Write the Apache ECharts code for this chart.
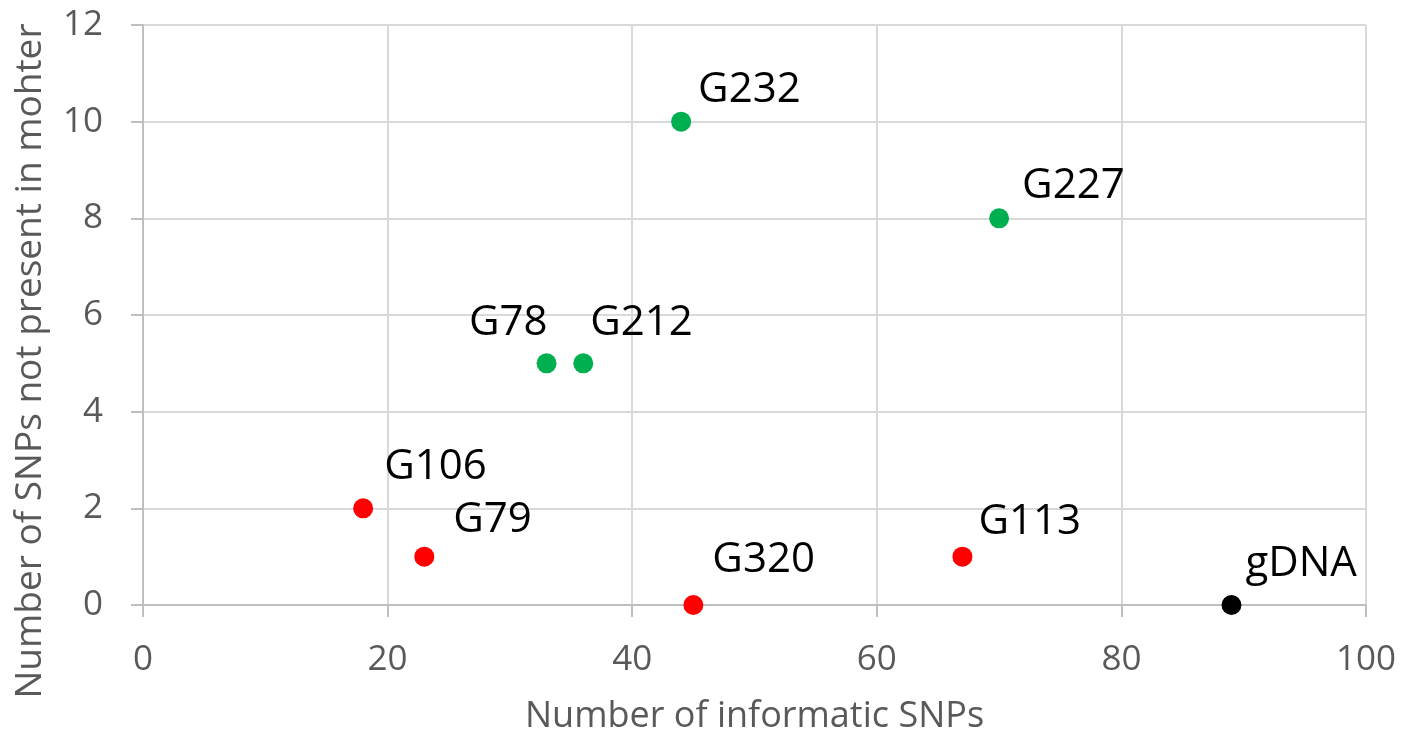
<!DOCTYPE html>
<html>
<head>
<meta charset="utf-8">
<script src="https://cdn.jsdelivr.net/npm/echarts@6/dist/echarts.min.js"></script>
<style>
html,body{margin:0;padding:0;background:#fff;}
#chart{width:1402px;height:740px;}
</style>
</head>
<body>
<div id="chart"></div>
<script>
// Data
const sampleNames = ['G232','G227','G78','G212','G106','G79','G320','G113','gDNA'];
const informativeSNPs = [44, 70, 33, 36, 18, 23, 45, 67, 89];
const snpsNotInMother = [10, 8, 5, 5, 2, 1, 0, 1, 0];
const sampleGroup = ['green','green','green','green','red','red','red','red','black'];
const xTicks = [0, 20, 40, 60, 80, 100];
const yTicks = [0, 2, 4, 6, 8, 10, 12];

// Layout / style (not data)
const groupColors = {green:'#00b050', red:'#ff0000', black:'#000000'};
const labelLayout = {
  G232:{pos:'right', off:[2,-32]},
  G227:{pos:'right', off:[8,-32]},
  G78:{pos:'left', off:[16,-40]},
  G212:{pos:'right', off:[-8,-40]},
  G106:{pos:'right', off:[6,-41]},
  G79:{pos:'right', off:[14,-37]},
  G320:{pos:'right', off:[4,-45]},
  G113:{pos:'right', off:[1,-35]},
  gDNA:{pos:'right', off:[-1,-41]}
};

const points = sampleNames.map((n,i)=>({
  name:n,
  value:[informativeSNPs[i], snpsNotInMother[i]],
  itemStyle:{color:groupColors[sampleGroup[i]], opacity:1},
  label:{show:true, formatter:n, position:labelLayout[n].pos, offset:labelLayout[n].off}
}));

const chart = echarts.init(document.getElementById('chart'));
const font = '"Open Sans", "Liberation Sans", sans-serif';
chart.setOption({
  animation:false,
  backgroundColor:'#ffffff',
  grid:{left:143, right:36, top:25, bottom:135, containLabel:false},
  xAxis:{
    type:'value', min:xTicks[0], max:xTicks[xTicks.length-1], interval:20,
    name:'Number of informatic SNPs', nameLocation:'middle', nameGap:94,
    nameTextStyle:{color:'#595959', fontSize:36, fontFamily:font},
    axisLine:{show:true, lineStyle:{color:'#bfbfbf', width:2}},
    axisTick:{show:true, length:12, inside:false, lineStyle:{color:'#bfbfbf', width:2}},
    axisLabel:{color:'#595959', fontSize:35, fontFamily:font, margin:38},
    splitLine:{show:true, lineStyle:{color:'#d9d9d9', width:2}}
  },
  yAxis:{
    type:'value', min:yTicks[0], max:yTicks[yTicks.length-1], interval:2,
    axisLine:{show:true, lineStyle:{color:'#bfbfbf', width:2}},
    axisTick:{show:true, length:12, inside:false, lineStyle:{color:'#bfbfbf', width:2}},
    axisLabel:{color:'#595959', fontSize:35, fontFamily:font, margin:40},
    splitLine:{show:true, lineStyle:{color:'#d9d9d9', width:2}}
  },
  graphic:[{
    type:'text', x:30, y:361, rotation:Math.PI/2,
    style:{text:'Number of SNPs not present in mohter', fill:'#595959', fontSize:37, fontFamily:font,
      align:'center', verticalAlign:'middle'}
  }],
  series:[{
    type:'scatter',
    symbol:'circle',
    symbolSize:20,
    data:points,
    itemStyle:{opacity:1},
    label:{show:true, color:'#000000', fontSize:42, fontFamily:font, distance:5}
  }]
});
</script>
</body>
</html>
